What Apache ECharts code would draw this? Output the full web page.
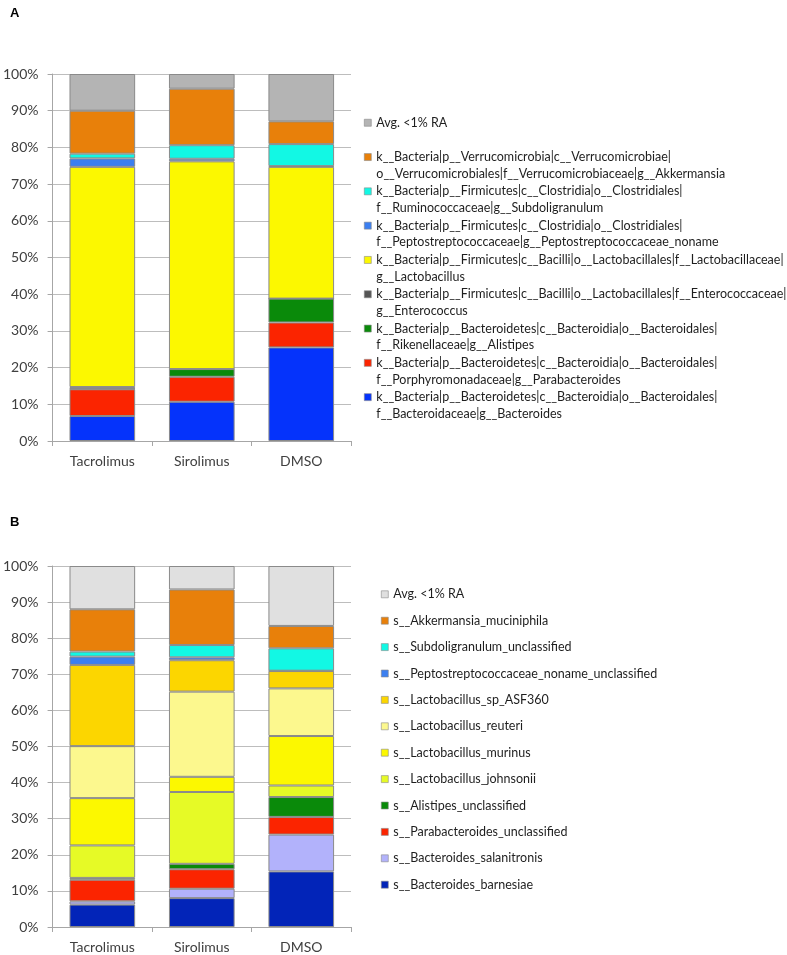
<!DOCTYPE html>
<html><head><meta charset="utf-8">
<script src="https://cdn.jsdelivr.net/npm/echarts@6/dist/echarts.min.js"></script>
<style>html,body{margin:0;padding:0;background:#fff}#c{width:787px;height:955px}</style>
</head><body><div id="c"></div>
<script>
// ---------- data ----------
const categories = ['Tacrolimus', 'Sirolimus', 'DMSO'];
const yTickValues = [0, 10, 20, 30, 40, 50, 60, 70, 80, 90, 100];

// Panel A (stack order bottom -> top)
const namesA = [
  'k__Bacteria|p__Bacteroidetes|c__Bacteroidia|o__Bacteroidales|\nf__Bacteroidaceae|g__Bacteroides',
  'k__Bacteria|p__Bacteroidetes|c__Bacteroidia|o__Bacteroidales|\nf__Porphyromonadaceae|g__Parabacteroides',
  'k__Bacteria|p__Bacteroidetes|c__Bacteroidia|o__Bacteroidales|\nf__Rikenellaceae|g__Alistipes',
  'k__Bacteria|p__Firmicutes|c__Bacilli|o__Lactobacillales|f__Enterococcaceae|\ng__Enterococcus',
  'k__Bacteria|p__Firmicutes|c__Bacilli|o__Lactobacillales|f__Lactobacillaceae|\ng__Lactobacillus',
  'k__Bacteria|p__Firmicutes|c__Clostridia|o__Clostridiales|\nf__Peptostreptococcaceae|g__Peptostreptococcaceae_noname',
  'k__Bacteria|p__Firmicutes|c__Clostridia|o__Clostridiales|\nf__Ruminococcaceae|g__Subdoligranulum',
  'k__Bacteria|p__Verrucomicrobia|c__Verrucomicrobiae|\no__Verrucomicrobiales|f__Verrucomicrobiaceae|g__Akkermansia',
  'Avg. <1% RA'
];
const bacteroidesA      = [6.8, 10.7, 25.5];
const parabacteroidesA  = [7.3, 6.8, 6.8];
const alistipesA        = [0.1, 2.1, 6.5];
const enterococcusA     = [0.5, 0, 0];
const lactobacillusA    = [60.0, 56.6, 35.9];
const peptoA            = [2.3, 0.7, 0.2];
const subdoligranulumA  = [1.3, 3.7, 6.0];
const akkermansiaA      = [11.7, 15.4, 6.2];
const avgA              = [10.0, 4.0, 12.9];
const valuesA = [bacteroidesA, parabacteroidesA, alistipesA, enterococcusA, lactobacillusA,
                 peptoA, subdoligranulumA, akkermansiaA, avgA];

// Panel B (stack order bottom -> top)
const namesB = [
  's__Bacteroides_barnesiae',
  's__Bacteroides_salanitronis',
  's__Parabacteroides_unclassified',
  's__Alistipes_unclassified',
  's__Lactobacillus_johnsonii',
  's__Lactobacillus_murinus',
  's__Lactobacillus_reuteri',
  's__Lactobacillus_sp_ASF360',
  's__Peptostreptococcaceae_noname_unclassified',
  's__Subdoligranulum_unclassified',
  's__Akkermansia_muciniphila',
  'Avg. <1% RA'
];
const barnesiaeB     = [6.2, 8.0, 15.4];
const salanitronisB  = [0.9, 2.6, 10.2];
const parabactB      = [6.0, 5.4, 4.9];
const alistipesB     = [0.5, 1.5, 5.5];
const johnsoniiB     = [9.0, 19.9, 3.2];
const murinusB       = [13.1, 4.2, 13.7];
const reuteriB       = [14.4, 23.6, 13.2];
const asf360B        = [22.5, 8.7, 4.8];
const peptoB         = [2.3, 0.8, 0.1];
const subdoliB       = [1.4, 3.4, 6.2];
const akkermansiaB   = [11.7, 15.4, 6.2];
const avgB           = [12.0, 6.5, 16.6];
const valuesB = [barnesiaeB, salanitronisB, parabactB, alistipesB, johnsoniiB, murinusB,
                 reuteriB, asf360B, peptoB, subdoliB, akkermansiaB, avgB];

// ---------- styles ----------
const colorsA = ['#0533fb', '#fb2400', '#0a8a0a', '#555555', '#fcf800', '#3b7ff0', '#12f8e4', '#e8800a', '#b4b4b4'];
const colorsB = ['#0224b8', '#b2b2fb', '#fb2400', '#0a8a0a', '#e6fa26', '#fcf800', '#fcf88e', '#fcd600', '#3b7ff0', '#12f8e4', '#e8800a', '#e0e0e0'];
const FONT = 'Lato';

function makeSeries(names, values, colors, idx) {
  return names.map((n, i) => ({
    name: n, type: 'bar', stack: 'panel' + idx,
    xAxisIndex: idx, yAxisIndex: idx,
    data: values[i], barWidth: '66%',
    itemStyle: { color: colors[i], borderColor: '#8a8a8a', borderWidth: 1 },
    emphasis: { disabled: true }
  }));
}

function yAxis(idx) {
  return {
    type: 'value', gridIndex: idx, min: 0, max: 100, interval: 10,
    axisLine: { show: true, lineStyle: { color: '#a6a6a6' } },
    axisTick: { show: true, length: 5, lineStyle: { color: '#a6a6a6' } },
    splitLine: { show: true, lineStyle: { color: '#bdbdbd' } },
    axisLabel: { formatter: '{value}%', fontFamily: FONT, fontSize: 14, color: '#404040', margin: 14 }
  };
}
function xAxis(idx) {
  return {
    type: 'category', gridIndex: idx, data: categories,
    axisLine: { show: true, lineStyle: { color: '#a6a6a6' } },
    axisTick: { show: true, length: 5, interval: 0, lineStyle: { color: '#a6a6a6' } },
    axisLabel: { fontFamily: FONT, fontSize: 14, color: '#404040', margin: 13, interval: 0 }
  };
}

const chart = echarts.init(document.getElementById('c'), null, { renderer: 'canvas' });
const legendA = namesA.slice().reverse();
const legendB = namesB.slice().reverse().map(n => n === 'Avg. <1% RA' ? { name: n, itemStyle: { color: colorsB[colorsB.length - 1] } } : n);

chart.setOption({
  animation: false,
  backgroundColor: '#ffffff',
  title: [
    { text: 'A', left: 5, top: 2, textStyle: { fontFamily: 'Liberation Sans', fontSize: 13, fontWeight: 'bold', color: '#000' } },
    { text: 'B', left: 5, top: 511, textStyle: { fontFamily: 'Liberation Sans', fontSize: 13, fontWeight: 'bold', color: '#000' } }
  ],
  grid: [
    { left: 51, width: 300, top: 74, height: 367 },
    { left: 52, width: 299, top: 566, height: 361 }
  ],
  xAxis: [xAxis(0), xAxis(1)],
  yAxis: [yAxis(0), yAxis(1)],
  legend: [
    {
      orient: 'vertical', left: 364, top: 97.7, padding: 0, icon: 'rect',
      itemWidth: 7, itemHeight: 7, itemGap: -15.8, selectedMode: false,
      itemStyle: { borderWidth: 0.6 },
      data: legendA,
      formatter: n => ' \n' + n + (n.indexOf('\n') >= 0 ? '' : '\n '),
      textStyle: { fontFamily: FONT, fontSize: 12.5, lineHeight: 16.7, color: '#1e1e1e' }
    },
    {
      orient: 'vertical', left: 381, top: 587.3, padding: 0, icon: 'rect',
      itemWidth: 7, itemHeight: 7, itemGap: 12.4, selectedMode: false,
      itemStyle: { borderWidth: 0.6 },
      data: legendB,
      textStyle: { fontFamily: FONT, fontSize: 12.5, lineHeight: 14, color: '#1e1e1e' }
    }
  ],
  series: makeSeries(namesA, valuesA, colorsA, 0).concat(makeSeries(namesB, valuesB, colorsB, 1))
});
</script></body></html>
